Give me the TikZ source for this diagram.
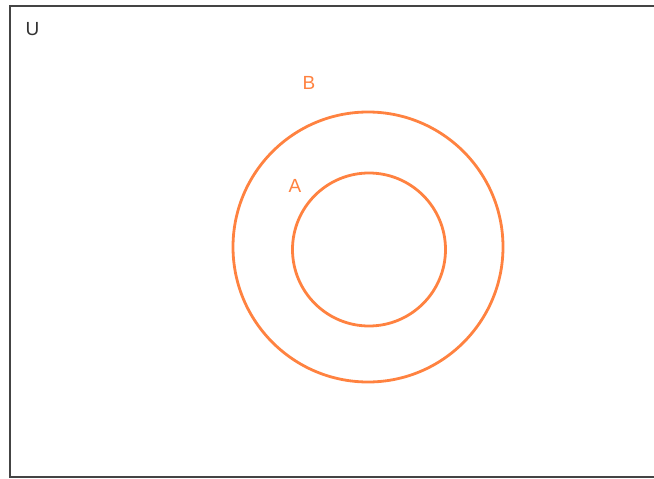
\documentclass[tikz,border=0pt]{standalone}
\usepackage{fontspec}
\setmainfont{Liberation Sans}
\definecolor{setorange}{RGB}{255,130,64}
\definecolor{framegray}{RGB}{68,68,68}
\definecolor{textgray}{RGB}{51,51,51}
\begin{document}
\begin{tikzpicture}[x=1pt,y=-1pt,
  setcircle/.style={draw=setorange,line width=2.8pt,circle,minimum size=#1,inner sep=0pt},
  setlabel/.style={text=setorange,font=\fontsize{19}{21}\selectfont,inner sep=0pt},
  ulabel/.style={text=textgray,font=\fontsize{19}{21}\selectfont,inner sep=0pt}]
\useasboundingbox (0,0) rectangle (654,479);
\draw[framegray,line width=2.5pt] (660,6) -- (10,6) -- (10,477) -- (660,477);
\node[ulabel] (u) at (32.5,29.5) {U};
\node[setcircle=270pt] (b) at (368,247) {};
\node[setcircle=153pt] (a) at (369,249.5) {};
\node[setlabel] (bl) at (309,82.5) {B};
\node[setlabel] (al) at (295,186) {A};
\end{tikzpicture}
\end{document}
